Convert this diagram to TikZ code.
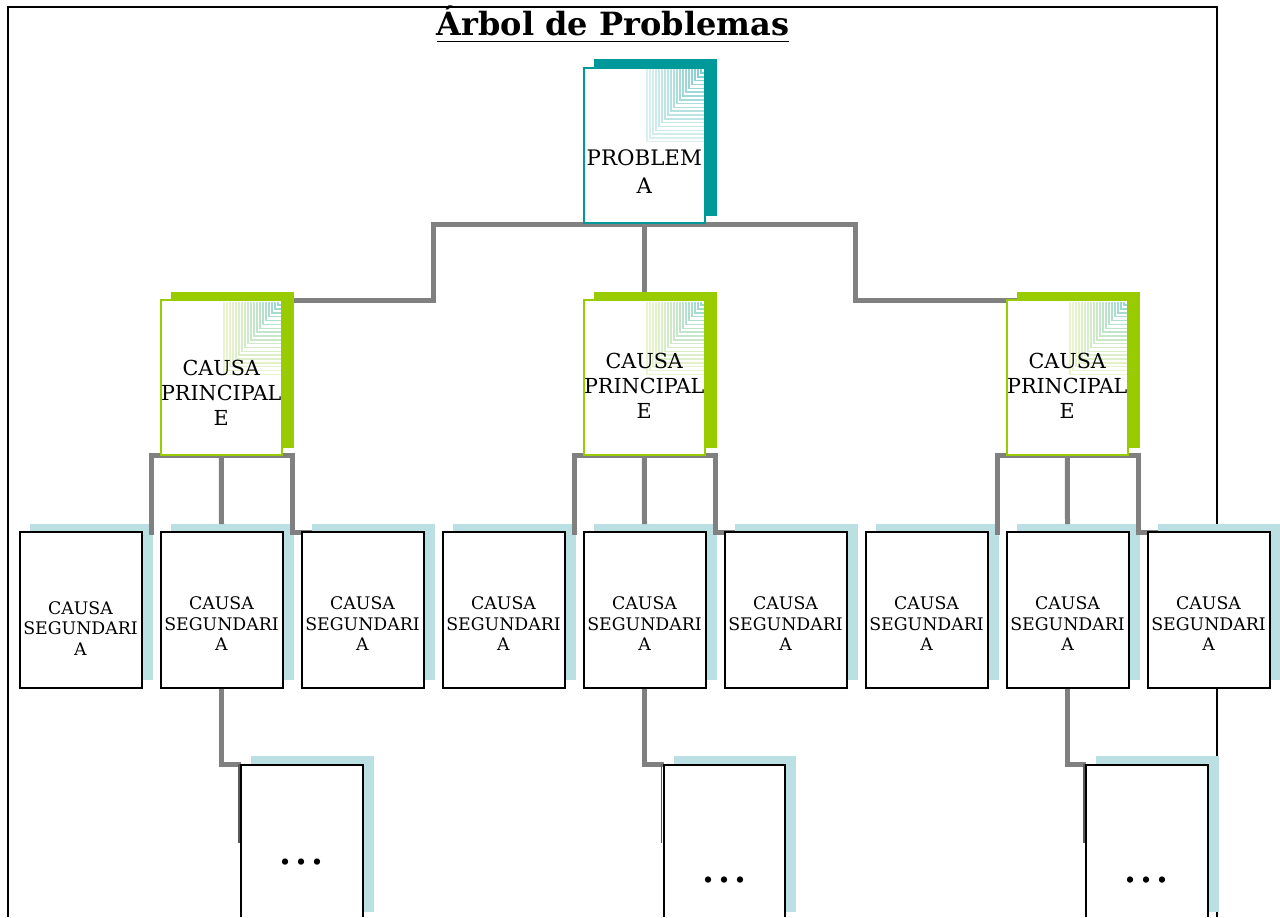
\documentclass[tikz,border=0pt]{standalone}
\usepackage{fontspec}
\setmainfont{DejaVu Serif}
\usetikzlibrary{calc}
\definecolor{pteal}{HTML}{009999}
\definecolor{pgreen}{HTML}{99CC00}
\definecolor{pblue}{HTML}{BBE0E3}
\definecolor{pgray}{HTML}{808080}
\pgfdeclarelayer{back}
\pgfdeclarelayer{mid}
\pgfsetlayers{back,mid,main}
\begin{document}
\begin{tikzpicture}[x=0.75pt,y=-0.75pt,
  bigbox/.style={rectangle,inner sep=0pt,outer sep=0pt,fill=white,line width=1.5pt,minimum width=91.125pt,minimum height=116.25pt},
  probbox/.style={bigbox,draw=pteal},
  causebox/.style={bigbox,draw=pgreen},
  secbox/.style={rectangle,inner sep=0pt,outer sep=0pt,fill=white,draw=black,line width=1.5pt,minimum width=91.5pt,minimum height=117pt},
  endbox/.style={rectangle,inner sep=0pt,outer sep=0pt,fill=white,minimum width=91.125pt,minimum height=114.375pt},
  conn/.style={pgray,line width=3.75pt},
  bigtxt/.style={align=center,inner sep=0pt,font=\fontsize{16}{21}\selectfont},
  causetxt/.style={align=center,inner sep=0pt,font=\fontsize{15.5}{18.75}\selectfont},
  sectxt/.style={align=center,inner sep=0pt,font=\fontsize{13}{15.4}\selectfont},
  dots/.style={inner sep=0pt,font=\fontsize{36}{40}\selectfont}
]
\useasboundingbox (0,0) rectangle (1280,917);

% title
\node[inner sep=0pt,anchor=base,font=\fontsize{24}{28}\selectfont\bfseries] (t) at (613,36) {Árbol de Problemas};
\draw[line width=1.3pt] ($(t.base west)+(0,5.5)$) -- ($(t.base east)+(0,5.5)$);

% boxes
\node[probbox] (p) at (644.25,145.5) {};
\node[causebox] (c1) at (221.25,377.5) {};
\node[causebox] (c2) at (644.25,377.5) {};
\node[causebox] (c3) at (1067.25,377.5) {};
\foreach \i in {1,...,9}{
  \node[secbox] (s\i) at ({80.5+141*(\i-1)},610) {};
}
\node[endbox] (b1) at (301.75,840.75) {};
\node[endbox] (b2) at (724.25,840.75) {};
\node[endbox] (b3) at (1146.75,840.75) {};
\foreach \b in {b1,b2,b3}{
  \draw[line width=1.5pt] (\b.south west) -- (\b.north west) -- (\b.north east) -- (\b.south east);
}

% corner patterns
\foreach \i in {1,...,19}{
  \pgfmathsetmacro\ww{3*\i+1}
  \pgfmathsetmacro\hh{(3*\i+1)*75/59}
  \pgfmathtruncatemacro\pc{50-35*\i/19}
  \draw[pteal!\pc!white,line width=1.1pt] ($(p.north east)+(-\ww,1.5)$) |- ($(p.north east)+(-1.5,\hh)$);
}
\foreach \c in {c1,c2,c3}{
  \foreach \i in {1,...,19}{
    \pgfmathsetmacro\ww{3*\i+1}
    \pgfmathsetmacro\hh{(3*\i+1)*77/60}
    \pgfmathtruncatemacro\g{100*\i/19}
    \pgfmathtruncatemacro\pc{42-22*\i/19}
    \draw[pgreen!\g!pteal!\pc!white,line width=1.1pt] ($(\c.north east)+(-\ww,1.5)$) |- ($(\c.north east)+(-1.5,\hh)$);
  }
}

% texts
\node[bigtxt] (pt) at ($(p.center)+(0,26.5)$) {PROBLEM\\A};
\node[causetxt] (c1t) at ($(c1.center)+(0,15.3)$) {CAUSA\\PRINCIPAL\\E};
\node[causetxt] (c2t) at ($(c2.center)+(0,8)$) {CAUSA\\PRINCIPAL\\E};
\node[causetxt] (c3t) at ($(c3.center)+(0,8)$) {CAUSA\\PRINCIPAL\\E};
\node[sectxt] (s1t) at ($(s1.center)+(0,18.4)$) {CAUSA\\SEGUNDARI\\A};
\foreach \i in {2,...,9}{
  \node[sectxt] (s\i t) at ($(s\i.center)+(0,14)$) {CAUSA\\SEGUNDARI\\A};
}
\node[dots] (d1) at (301.75,862) {…};
\node[dots] (d2) at (724.25,880.5) {…};
\node[dots] (d3) at (1146.75,880.5) {…};

% shadows and frame
\begin{pgfonlayer}{back}
  \draw[line width=1.5pt] (8.3,917) -- (8.3,7) -- (1217,7) -- (1217,917);
  \fill[pteal] ($(p.north west)+(10,-8.5)$) rectangle ($(p.south east)+(11.5,-7.5)$);
  \foreach \c in {c1,c2,c3}{
    \fill[pgreen] ($(\c.north west)+(10,-8.5)$) rectangle ($(\c.south east)+(11.5,-7.5)$);
  }
  \foreach \i in {1,...,8}{
    \fill[pblue] ($(s\i.north west)+(10.5,-8.5)$) rectangle ($(s\i.south east)+(11,-8)$);
  }
  \fill[pblue] ($(s9.north west)+(10.5,-8.5)$) rectangle ($(s9.south east)+(10.5,-8)$);
  \foreach \b in {b1,b2,b3}{
    \fill[pblue] ($(\b.north west)+(10,-8.5)$) rectangle ($(\b.south east)+(11,-5)$);
  }
\end{pgfonlayer}

% connectors
\begin{pgfonlayer}{mid}
  \draw[conn] ($(c1.north east)+(12,0)$) -| ($(p.south)+(-211,1.5)$) -| ($(c3.north west)+(-151,0)$) -- ($(c3.north west)+(10,0)$);
  \draw[conn] ($(p.south)+(0,1.5)$) -- ($(c2.north)+(0,-8)$);
  \foreach \c/\a/\m/\z in {c1/s1/s2/s3, c2/s4/s5/s6, c3/s7/s8/s9}{
    \draw[conn] ($(\a.north east)+(9.5,3)$) |- ($(\c.south east)+(10,0)$) |- ($(\z.north west)+(10.5,0)$);
    \draw[conn] (\c.south) -- ($(\m.north)+(0,-8)$);
  }
  \draw[conn] (s2.south) |- (b1.north west);
  \draw[conn] (s5.south) |- (b2.north west);
  \draw[conn] (s8.south) |- (b3.north west);
  \foreach \b in {b1,b2,b3}{
    \draw[pgray!70!black,line width=1.1pt] ($(\b.north west)+(-2,-1)$) -- ++(0,79);
  }
\end{pgfonlayer}
\end{tikzpicture}
\end{document}
